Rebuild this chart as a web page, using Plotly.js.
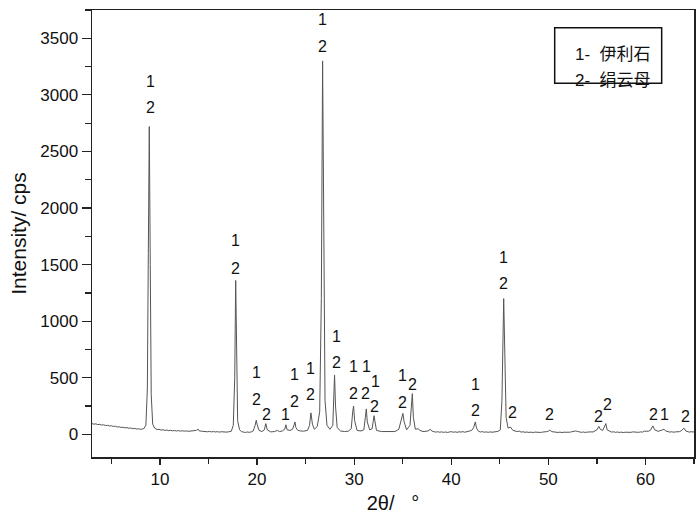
<!DOCTYPE html>
<html>
<head>
<meta charset="utf-8">
<script src="https://cdn.plot.ly/plotly-3.0.1.min.js"></script>
<style>html,body{margin:0;padding:0;background:#fff;}#chart{width:700px;height:517px;}</style>
</head>
<body>
<div id="chart"></div>
<script>
// 2θ (degrees)
const twoTheta = [
3.0,3.2,3.4,3.6,3.8,4.0,4.2,4.4,4.6,4.8,5.0,5.2,5.4,5.6,5.8,6.0,6.2,6.4,6.6,6.8,
7.0,7.2,7.4,7.6,7.8,8.0,8.2,8.35,8.55,8.7,8.8,8.9,9.0,9.1,9.25,9.45,9.7,9.9,10.1,10.3,
10.5,10.7,10.9,11.1,11.3,11.5,11.7,11.9,12.1,12.3,12.5,12.7,12.9,13.1,13.3,13.5,13.75,13.9,14.05,14.3,
14.5,14.7,14.9,15.1,15.3,15.5,15.7,15.9,16.1,16.3,16.5,16.7,16.9,17.1,17.35,17.55,17.7,17.8,17.9,18.0,
18.2,18.4,18.6,18.8,19.0,19.2,19.4,19.6,19.8,19.92,20.0,20.2,20.5,20.75,20.9,21.05,21.4,21.8,22.1,22.3,
22.6,22.85,22.97,23.1,23.4,23.65,23.8,23.9,24.0,24.2,24.5,24.8,25.2,25.4,25.55,25.7,25.9,26.2,26.45,26.62,
26.75,26.88,27.0,27.2,27.5,27.8,27.92,27.98,28.08,28.25,28.6,29.0,29.4,29.7,29.85,29.94,30.05,30.3,30.7,31.0,
31.15,31.25,31.35,31.6,31.85,32.05,32.15,32.3,32.8,33.5,34.2,34.6,34.9,35.02,35.15,35.4,35.75,35.9,35.99,36.1,
36.3,36.6,36.75,37.0,37.2,37.4,37.6,37.85,38.0,38.2,38.4,38.6,38.8,39.0,39.2,39.4,39.6,39.8,40.0,40.2,
40.4,40.6,40.8,41.0,41.2,41.4,41.6,41.9,42.1,42.3,42.48,42.6,42.8,43.0,43.2,43.4,43.6,43.8,44.0,44.2,
44.4,44.6,44.8,45.05,45.22,45.4,45.52,45.65,45.85,46.1,46.35,46.6,46.8,47.0,47.2,47.4,47.6,47.8,48.0,48.2,
48.4,48.6,48.8,49.0,49.2,49.4,49.6,49.8,50.0,50.15,50.35,50.6,50.8,51.0,51.2,51.4,51.6,51.8,52.0,52.2,
52.4,52.6,52.8,53.0,53.2,53.4,53.6,53.8,54.0,54.2,54.4,54.6,54.8,55.0,55.2,55.35,55.6,55.82,55.92,56.05,
56.3,56.5,56.7,56.9,57.1,57.3,57.5,57.7,57.9,58.1,58.3,58.5,58.7,58.9,59.1,59.3,59.5,59.7,59.9,60.1,
60.3,60.5,60.76,60.95,61.15,61.3,61.5,61.7,61.9,62.1,62.3,62.5,62.7,62.9,63.1,63.3,63.5,63.7,63.85,63.96,
64.15,64.35,64.5,64.7,64.85,65.0
];
// Intensity (cps)
const intensity = [
95,90,93,86,89,82,85,78,80,74,76,70,72,65,67,61,63,57,60,54,
56,50,53,47,49,45,48,52,80,400,1600,2720,1500,350,90,55,42,45,38,41,
35,38,33,36,31,34,30,33,29,32,28,31,27,30,27,31,35,48,30,28,
25,28,23,26,22,25,21,24,20,23,20,22,20,23,28,80,500,1360,600,120,
40,24,20,17,21,18,22,30,80,125,90,35,25,40,95,40,22,25,35,25,
30,45,85,40,35,45,80,110,60,35,30,28,35,80,190,90,45,70,200,1200,
3300,1700,300,80,45,80,300,525,250,60,30,25,28,50,200,250,120,35,30,40,
150,225,110,40,50,165,110,35,25,22,25,45,140,185,110,40,80,300,360,150,
45,50,35,28,24,28,30,45,30,24,20,23,19,22,18,21,17,21,24,19,
22,18,23,20,24,19,23,28,35,60,110,55,28,21,24,19,22,18,22,19,
23,21,26,40,300,1200,700,150,55,65,35,30,25,28,20,23,18,21,17,20,
16,20,18,21,17,20,19,24,28,38,24,19,21,17,20,16,19,17,20,19,
23,27,30,26,22,18,21,17,20,18,22,21,28,40,70,45,35,85,95,40,
25,20,23,18,21,17,20,16,19,17,21,18,22,19,22,18,22,20,28,25,
28,35,75,40,30,27,32,38,45,30,24,20,23,19,22,20,24,32,45,55,
30,22,20,23,19,21
];
// Phase labels (1 = illite, 2 = sericite)
const labelText = ["1","2","1","2","1","2","1","2","2","1","1","2","1","2","1","2","1","2","1","2","1","2","1","2","1","2","2","1","2","1","2","2","2","2","2","2"];
const labelX = [8.98,8.98,26.78,26.78,17.74,17.81,19.96,19.9,20.99,22.9,23.82,23.82,25.55,25.55,28.15,28.15,29.94,29.94,31.25,31.14,32.18,32.07,34.93,34.93,42.48,42.48,36.02,45.37,45.4,61.97,46.27,50.11,55.2,56.06,60.8,64.13];
const labelY = [3122,2886,3663,3427,1715,1466,551,308,180,176,529,290,581,348,868,639,603,363,603,363,471,242,524,280,445,209,445,1565,1333,180,191,180,156,268,180,156];
const legendLines = ["1-  伊利石","2-  绢云母"];

const font = "Liberation Sans, Arial, 'Noto Sans CJK SC', sans-serif";

const annotations = labelText.map((t, i) => ({
  x: labelX[i], y: labelY[i], xref: 'x', yref: 'y', text: t, showarrow: false,
  font: {family: font, size: 16, color: '#111'}
}));
annotations.push({xref:'paper', yref:'paper', x:0.7985, y:0.9255, xanchor:'left', text: legendLines[0], showarrow:false, font:{family:font, size:17, color:'#111'}});
annotations.push({xref:'paper', yref:'paper', x:0.7985, y:0.8673, xanchor:'left', text: legendLines[1], showarrow:false, font:{family:font, size:17, color:'#111'}});

const trace = {
  x: twoTheta, y: intensity, type: 'scatter', mode: 'lines',
  line: {color: '#555', width: 1}, hoverinfo: 'skip'
};

const layout = {
  width: 700, height: 517,
  margin: {l: 92, r: 6, t: 10, b: 60},
  paper_bgcolor: '#fff', plot_bgcolor: '#fff',
  showlegend: false,
  font: {family: font, size: 16, color: '#111'},
  xaxis: {
    range: [3, 65], dtick: 10, tick0: 0, ticks: 'outside', ticklen: 6, tickwidth: 1.2, tickcolor: '#222',
    showline: true, linecolor: '#222', linewidth: 1.5, mirror: true, showgrid: false, zeroline: false,
    minor: {dtick: 5, tick0: 0, ticks: 'outside', ticklen: 5, tickcolor: '#222', showgrid: false},
    tickfont: {size: 17, family: font, color: '#111'},
    title: {text: '2θ/\u00a0\u00a0\u00a0°', font: {size: 20, family: font, color: '#111'}, standoff: 8}
  },
  yaxis: {
    range: [-200, 3750], dtick: 500, tick0: 0, ticks: 'outside', ticklen: 9, tickwidth: 1.2, tickcolor: '#222',
    showline: true, linecolor: '#222', linewidth: 1.5, mirror: true, showgrid: false, zeroline: false,
    minor: {dtick: 250, ticks: 'outside', ticklen: 6, tickcolor: '#222', showgrid: false},
    tickfont: {size: 17, family: font, color: '#111'},
    title: {text: 'Intensity/ cps', font: {size: 21, family: font, color: '#111'}, standoff: 8}
  },
  shapes: [{type: 'rect', xref: 'paper', yref: 'paper', x0: 0.7686, x1: 0.9463, y0: 0.836, y1: 0.9604,
    line: {color: '#111', width: 1.5}, fillcolor: 'rgba(0,0,0,0)'}],
  annotations: annotations
};

Plotly.newPlot('chart', [trace], layout, {displayModeBar: false, staticPlot: true});
</script>
</body>
</html>
